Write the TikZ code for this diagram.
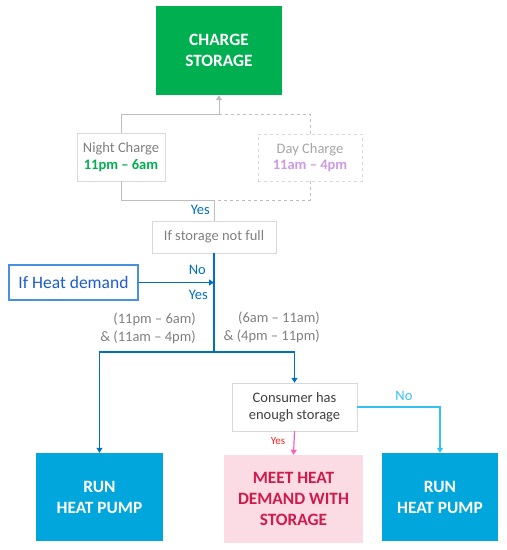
\documentclass[tikz,border=0pt]{standalone}
\usepackage{fontspec}
\setmainfont{Carlito}
\usetikzlibrary{arrows.meta}
\definecolor{storegreen}{HTML}{00B050}
\definecolor{pumpblue}{HTML}{00A6DC}
\definecolor{flowblue}{HTML}{0070C0}
\definecolor{demandblue}{HTML}{1E5CD2}
\definecolor{demandedge}{HTML}{4A90E2}
\definecolor{noblue}{HTML}{33C3F3}
\definecolor{meetpink}{HTML}{FCDCE4}
\definecolor{meetred}{HTML}{CF1A4C}
\definecolor{yespink}{HTML}{FF5EB8}
\definecolor{yesred}{HTML}{FF2020}
\definecolor{linegray}{HTML}{BDBDBD}
\definecolor{boxgray}{HTML}{D9D9D9}
\definecolor{txtgray}{HTML}{808080}
\definecolor{daypurple}{HTML}{CC9AE6}
\begin{document}
\begin{tikzpicture}[x=1pt,y=-1pt,
  tip/.style={-{Triangle[width=6pt,length=5pt]}},
  bigbox/.style={inner sep=0pt,align=center,font=\fontsize{17.3}{21}\selectfont\bfseries},
  askbox/.style={draw=boxgray,fill=white,inner sep=0pt,align=center,
    font=\fontsize{14.5}{16.5}\selectfont},
  grayline/.style={draw=linegray,line width=0.9pt},
  flow/.style={draw=flowblue,line width=1.2pt},
  flowlabel/.style={text=flowblue,font=\fontsize{14.5}{16}\selectfont,inner sep=0pt},
  timelabel/.style={text=txtgray,font=\fontsize{14.5}{18}\selectfont,align=right,inner sep=0pt}]
\useasboundingbox (0,0) rectangle (507,550);
% boxes
\node[bigbox,fill=storegreen,text=white,minimum width=126pt,minimum height=89pt] (charge) at (219,50.5) {CHARGE\\STORAGE};
\node[askbox,minimum width=88pt,minimum height=48pt,text=txtgray] (night) at (121,157)
  {Night Charge\\{\color{storegreen}\bfseries 11pm – 6am}};
\node[askbox,draw=boxgray,dashed,minimum width=104pt,minimum height=47pt,text=txtgray!70] (day) at (310,157.5)
  {Day Charge\\{\color{daypurple}\bfseries 11am – 4pm}};
\node[askbox,minimum width=124pt,minimum height=32pt,text=txtgray] (full) at (214,237) {If storage not full};
\node[draw=demandedge,line width=1.2pt,fill=white,text=demandblue,minimum width=129pt,minimum height=35pt,
  inner sep=0pt,font=\fontsize{17.5}{19}\selectfont] (demand) at (73.5,282.5) {If Heat demand};
\node[askbox,minimum width=125pt,minimum height=48pt,text=black!75] (consumer) at (294.5,407)
  {Consumer has\\enough storage};
\node[bigbox,fill=pumpblue,text=white,minimum width=127pt,minimum height=88pt] (pumpL) at (99.5,497) {RUN\\HEAT PUMP};
\node[bigbox,fill=meetpink,text=meetred,minimum width=139pt,minimum height=88pt] (meet) at (293.5,499)
  {MEET HEAT\\DEMAND WITH\\STORAGE};
\node[bigbox,fill=pumpblue,text=white,minimum width=116pt,minimum height=88pt] (pumpR) at (440,497) {RUN\\HEAT PUMP};
% junctions
\coordinate (top) at (219,114);
\coordinate (mid) at (214,200);
\coordinate (join) at (214,282.5);
\coordinate (split) at (214,352);
% charging branch
\draw[grayline] (night.north) |- (top);
\draw[grayline,dashed] (day.north) |- (top);
\draw[grayline,tip,fill=linegray] (top) -- (charge.south);
\draw[grayline] (night.south) |- (mid);
\draw[grayline,dashed] (day.south) |- (mid);
\draw[grayline] (mid) -- (full.north);
\node[flowlabel,anchor=east] (yesfull) at (210,210) {Yes};
% demand branch
\draw[flow] (full.south) -- (split);
\draw[flow,tip] (demand.east) -- (join);
\node[flowlabel,anchor=east] (nodemand) at (206,270) {No};
\node[flowlabel,anchor=east] (yesdemand) at (208,295) {Yes};
\draw[flow,tip] (split) -| (pumpL.north);
\draw[flow,tip] (split) -| (consumer.north);
\node[timelabel,anchor=east] (night times) at (196,328) {(11pm – 6am)\\\& (11am – 4pm)};
\node[timelabel,anchor=east] (day times) at (320,327) {(6am – 11am)\\\& (4pm – 11pm)};
% storage check
\draw[draw=noblue,line width=1.2pt,tip] (consumer.east) -| (pumpR.north);
\node[text=noblue,font=\fontsize{14.5}{16}\selectfont,inner sep=0pt] (nostore) at (404,396) {No};
\draw[draw=yespink,line width=1.2pt,tip] (consumer.south) -- (meet.north);
\node[text=yesred,font=\fontsize{11}{12}\selectfont,inner sep=0pt] (yesstore) at (278,441) {Yes};
\end{tikzpicture}
\end{document}
